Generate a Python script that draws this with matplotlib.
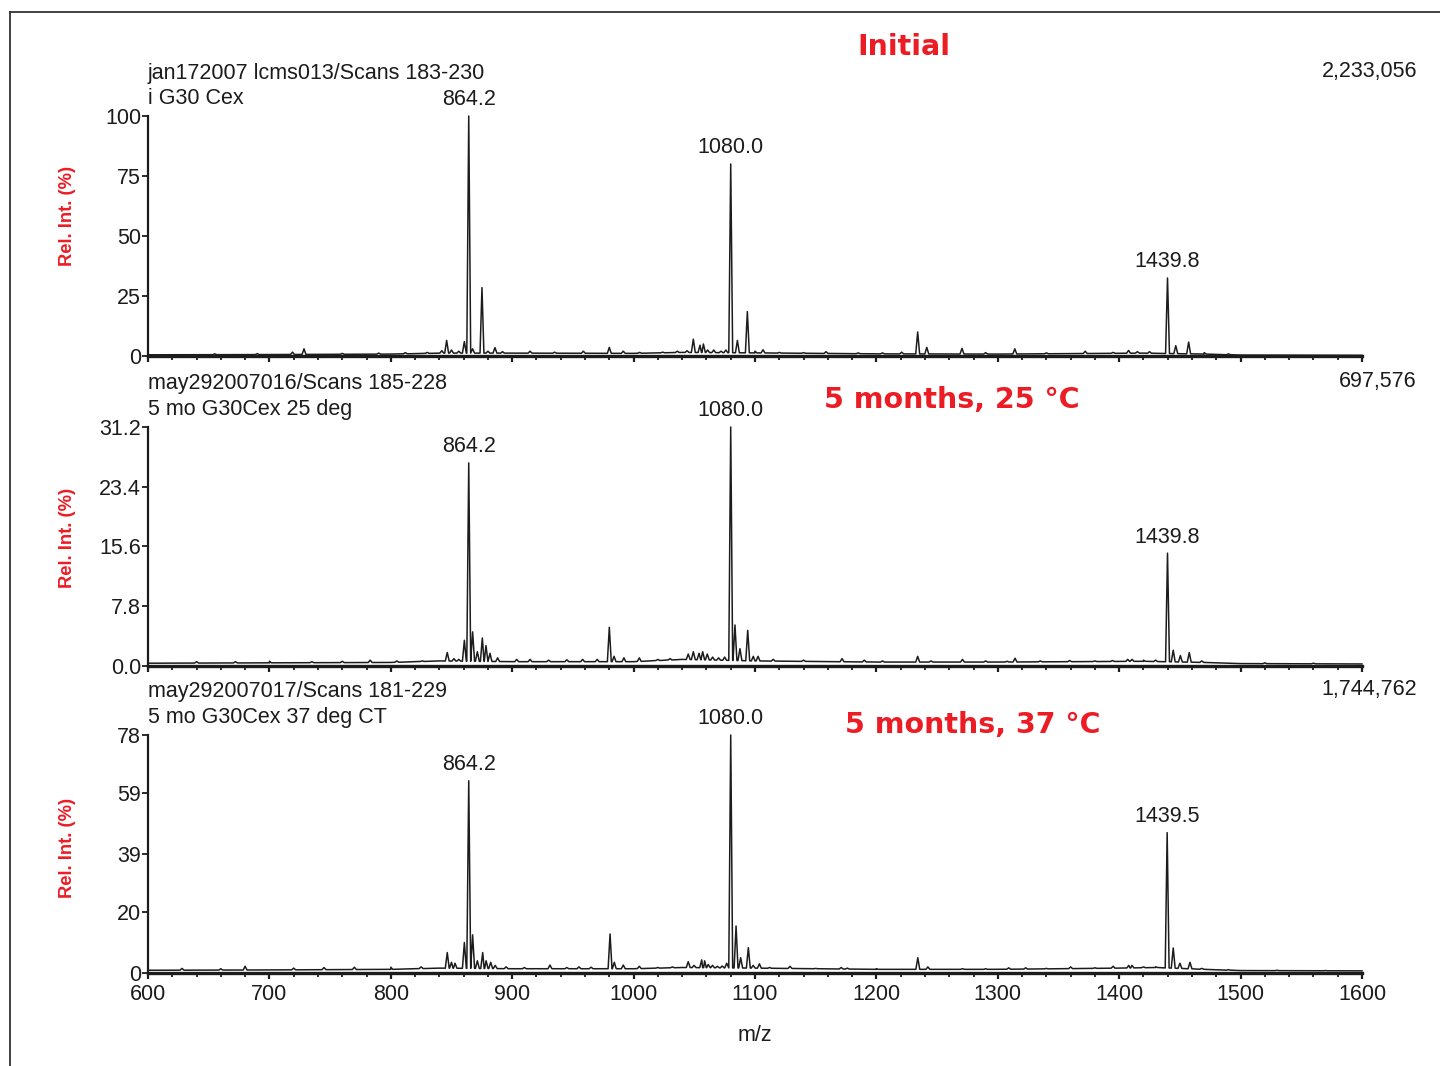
import numpy as np
import matplotlib.pyplot as plt
from matplotlib.lines import Line2D
from matplotlib.ticker import MultipleLocator, FixedLocator

plt.rcParams['font.family'] = ['Liberation Sans', 'DejaVu Sans']

# ---- data ----
titles = ['Initial', '5 months, 25 \u00b0C', '5 months, 37 \u00b0C']
header1 = ['jan172007 lcms013/Scans 183-230', 'may292007016/Scans 185-228', 'may292007017/Scans 181-229']
header2 = ['i G30 Cex', '5 mo G30Cex 25 deg', '5 mo G30Cex 37 deg CT']
totals = ['2,233,056', '697,576', '1,744,762']
yticks_1 = [0, 25, 50, 75, 100]
yticks_2 = [0.0, 7.8, 15.6, 23.4, 31.2]
yticks_3 = [0, 20, 39, 59, 78]
ylabels_1 = ['0', '25', '50', '75', '100']
ylabels_2 = ['0.0', '7.8', '15.6', '23.4', '31.2']
ylabels_3 = ['0', '20', '39', '59', '78']
labelled_1 = [(864.2, '864.2'), (1080.0, '1080.0'), (1439.8, '1439.8')]
labelled_2 = [(864.2, '864.2'), (1080.0, '1080.0'), (1439.8, '1439.8')]
labelled_3 = [(864.2, '864.2'), (1080.0, '1080.0'), (1439.5, '1439.5')]

# baseline levels
base_mz_1 = [600, 700, 800, 840, 900, 1000, 1040, 1100, 1200, 1300, 1420, 1470, 1500, 1600]
base_i_1 = [0.5, 0.6, 0.8, 1.2, 1.2, 1.1, 1.5, 1.3, 0.9, 0.8, 1.2, 0.8, 0.4, 0.3]
base_mz_2 = [600, 700, 800, 840, 900, 1000, 1040, 1100, 1200, 1300, 1420, 1470, 1500, 1600]
base_i_2 = [0.3, 0.35, 0.4, 0.6, 0.5, 0.5, 0.8, 0.6, 0.45, 0.45, 0.55, 0.4, 0.25, 0.2]
base_mz_3 = [600, 700, 800, 840, 900, 1000, 1040, 1100, 1200, 1300, 1400, 1430, 1470, 1500, 1600]
base_i_3 = [0.9, 1.0, 1.2, 1.6, 1.4, 1.4, 1.8, 1.6, 1.2, 1.2, 1.6, 1.8, 1.2, 0.8, 0.7]

# peaks (m/z, height in axis units)
pk_mz_1 = [655, 690, 719, 728.5, 760, 790, 812, 830, 842, 846.0, 850, 856, 860.6, 864.2, 867.4,
           875.1, 880, 885.8, 892, 914.7, 935, 958.6, 980.0, 991.5, 1005, 1024, 1036, 1044,
           1049.2, 1054.7, 1057.5, 1061, 1066, 1072, 1076, 1080.0, 1085.5, 1093.7, 1100, 1106.6,
           1120, 1140, 1158.5, 1185, 1205, 1220.8, 1234, 1241.5, 1270.5, 1290, 1314, 1340, 1372,
           1395, 1407.7, 1415, 1425, 1439.8, 1446.6, 1457.2, 1470, 1490]
pk_i_1 = [0.9, 1.0, 1.6, 3.0, 1.1, 1.2, 1.4, 1.5, 2.2, 6.5, 2.5, 2.0, 6.0, 100, 3.0,
          28.5, 2.0, 3.5, 1.8, 2.0, 1.6, 2.0, 3.6, 2.0, 1.5, 1.6, 2.0, 2.2,
          7.0, 4.5, 5.0, 2.5, 2.5, 2.0, 2.5, 80, 6.5, 18.5, 2.0, 2.6,
          1.5, 1.4, 1.8, 1.3, 1.3, 1.6, 10.0, 3.6, 3.2, 1.4, 3.0, 1.3, 2.0,
          1.5, 2.3, 1.8, 1.8, 32.5, 4.3, 5.8, 1.4, 0.9]

pk_mz_2 = [640, 672, 700, 735, 760, 783, 805, 826, 846.5, 852, 856, 860.6, 864.2, 867.4, 871.3,
           875.4, 878.4, 881.7, 888, 903.7, 914.7, 930, 945, 958, 970, 980.0, 983.9, 992, 1004.7,
           1020, 1030, 1045, 1049.2, 1053.9, 1056.9, 1060.7, 1065.1, 1070, 1075, 1080.0, 1083.5,
           1087.6, 1094, 1098.6, 1102.5, 1115, 1140, 1171.7, 1190, 1205, 1234, 1245, 1270.9,
           1290, 1307.6, 1314.2, 1335, 1359.2, 1380, 1394.5, 1407, 1410.6, 1420, 1430, 1439.8,
           1444.5, 1450.4, 1457.7, 1468, 1520, 1560]
pk_i_2 = [0.5, 0.5, 0.55, 0.5, 0.55, 0.7, 0.6, 0.6, 1.7, 0.9, 0.8, 3.3, 26.5, 4.4, 1.8,
          3.6, 2.6, 1.6, 1.0, 0.8, 0.8, 0.7, 0.75, 0.8, 0.8, 5.0, 1.2, 1.0, 1.0,
          0.8, 0.9, 1.5, 1.8, 1.6, 1.8, 1.5, 1.1, 1.0, 1.1, 31.2, 5.3,
          2.2, 4.6, 1.2, 1.2, 0.8, 0.7, 0.9, 0.7, 0.6, 1.2, 0.6, 0.8,
          0.6, 0.55, 0.95, 0.6, 0.65, 0.6, 0.65, 0.8, 0.8, 0.7, 0.7, 14.7,
          2.0, 1.3, 1.7, 0.6, 0.35, 0.3]

pk_mz_3 = [628, 660, 680, 720, 745, 770, 800, 825, 846.5, 850, 852.9, 860.6, 864.2, 867.4, 871.3,
           875.7, 878.5, 882.3, 886, 895, 910, 931.1, 945, 955, 965, 980.6, 984.1, 991.5, 1004.7,
           1020, 1032, 1045, 1049.8, 1056.1, 1058.5, 1061.5, 1065, 1069, 1073, 1076.7, 1080.0,
           1084.4, 1088.2, 1094.5, 1098.5, 1103.6, 1112, 1128.8, 1150, 1171, 1176, 1200, 1234.1,
           1242.4, 1271, 1290, 1309, 1323, 1340, 1360, 1380, 1395, 1407.9, 1410.5, 1420, 1430,
           1439.5, 1444.5, 1450, 1458.3, 1468, 1490, 1530, 1570]
pk_i_3 = [1.5, 1.4, 2.2, 1.6, 1.8, 1.9, 1.9, 2.0, 6.7, 3.5, 3.2, 10, 63, 12.5, 4,
          6.7, 4, 3.5, 2.5, 2.0, 1.8, 2.6, 1.8, 2.0, 1.9, 12.8, 3.5, 2.6, 2.2,
          1.8, 2.0, 3.7, 2.5, 4.3, 4.0, 2.8, 2.5, 2.2, 2.3, 3.2, 78,
          15.4, 5, 8.3, 2.5, 3.0, 1.8, 2.2, 1.5, 1.8, 1.6, 1.4, 5.0,
          2.0, 1.4, 1.4, 1.7, 1.7, 1.5, 2.0, 1.7, 2.2, 2.5, 2.5, 2.0, 2.0,
          46, 8.2, 3.2, 3.5, 1.5, 1.1, 0.9, 0.8]

RED = '#ec1c24'
INK = '#1c1c1c'
FS = 15.5


def trace(base_mz, base_i, pk_mz, pk_i, hw=1.6):
    # baseline points plus a narrow triangular profile for each peak
    x = list(base_mz)
    y = list(base_i)
    for m, h in zip(pk_mz, pk_i):
        b = np.interp(m, base_mz, base_i)
        x += [m - hw, m, m + hw]
        y += [b, h, b]
    order = np.argsort(x, kind='stable')
    return np.array(x)[order], np.array(y)[order]


fig = plt.figure(figsize=(14.4, 10.66), dpi=100)
W, H = 1440.0, 1066.0


def fx(px):
    return px / W


def fy(py):
    return 1 - py / H


panels = [
    dict(box=(148, 356, 240), base=(base_mz_1, base_i_1), pk=(pk_mz_1, pk_i_1),
         yt=yticks_1, yl=ylabels_1, lab=labelled_1, heads=(74, 98), title=(904, 47), ylab=216),
    dict(box=(148, 665.5, 238.5), base=(base_mz_2, base_i_2), pk=(pk_mz_2, pk_i_2),
         yt=yticks_2, yl=ylabels_2, lab=labelled_2, heads=(384, 409), title=(952, 400), ylab=538),
    dict(box=(148, 973, 238), base=(base_mz_3, base_i_3), pk=(pk_mz_3, pk_i_3),
         yt=yticks_3, yl=ylabels_3, lab=labelled_3, heads=(692, 717), title=(973, 725), ylab=848),
]

for k, p in enumerate(panels):
    x0, ybot, hgt = p['box']
    ax = fig.add_axes([fx(x0), fy(ybot), 1214 / W, hgt / H])
    ax.patch.set_alpha(0)
    mz, inten = trace(p['base'][0], p['base'][1], p['pk'][0], p['pk'][1])
    ax.plot(mz, inten, color=INK, lw=1.1, clip_on=False)
    ax.set_xlim(600, 1600)
    ax.set_ylim(0, p['yt'][-1])
    for s in ['top', 'right']:
        ax.spines[s].set_visible(False)
    ax.spines['left'].set_linewidth(1.6)
    ax.spines['bottom'].set_linewidth(2.4)
    ax.spines['left'].set_color(INK)
    ax.spines['bottom'].set_color(INK)
    ax.xaxis.set_major_locator(MultipleLocator(100))
    ax.xaxis.set_minor_locator(MultipleLocator(20))
    ax.yaxis.set_major_locator(FixedLocator(p['yt']))
    ax.set_yticklabels(p['yl'])
    ax.tick_params(axis='x', which='major', direction='out', length=4.5, width=1.6, color=INK,
                   labelsize=FS, labelcolor=INK, pad=3.5)
    ax.tick_params(axis='x', which='minor', direction='out', length=3, width=1.3, color=INK)
    ax.tick_params(axis='y', direction='out', length=4, width=1.3, color=INK,
                   labelsize=FS, labelcolor=INK, pad=1)
    if k < 2:
        ax.tick_params(axis='x', labelbottom=False)
    else:
        ax.set_xlabel('m/z', fontsize=FS, color=INK, labelpad=14)

    for m, txt in p['lab']:
        h = p['pk'][1][p['pk'][0].index(m)]
        ax.annotate(txt, (m, h), xytext=(0, 4), textcoords='offset points',
                    ha='center', va='bottom', fontsize=FS, color=INK,
                    annotation_clip=False)

    h1, h2 = p['heads']
    fig.text(fx(148), fy(h1), header1[k], fontsize=FS, color=INK, va='center', ha='left')
    fig.text(fx(148), fy(h2), header2[k], fontsize=FS, color=INK, va='center', ha='left')
    fig.text(fx(1417), fy(h1 - 2), totals[k], fontsize=FS, color=INK, va='center', ha='right')
    tx, ty = p['title']
    fig.text(fx(tx), fy(ty), titles[k], fontsize=20.5, fontweight='bold', color=RED,
             family='DejaVu Sans', ha='center', va='center')
    fig.text(fx(68), fy(p['ylab']), 'Rel. Int. (%)', rotation=90, fontsize=13.2,
             fontweight='bold', color=RED, ha='center', va='center')

# scanned page frame
fig.add_artist(Line2D([fx(10), fx(10)], [fy(12), 0], color='#333333', lw=1.3))
fig.add_artist(Line2D([fx(10), 1], [fy(12), fy(12)], color='#333333', lw=1.3))

fig.savefig('out.png', dpi=100, facecolor='white')
